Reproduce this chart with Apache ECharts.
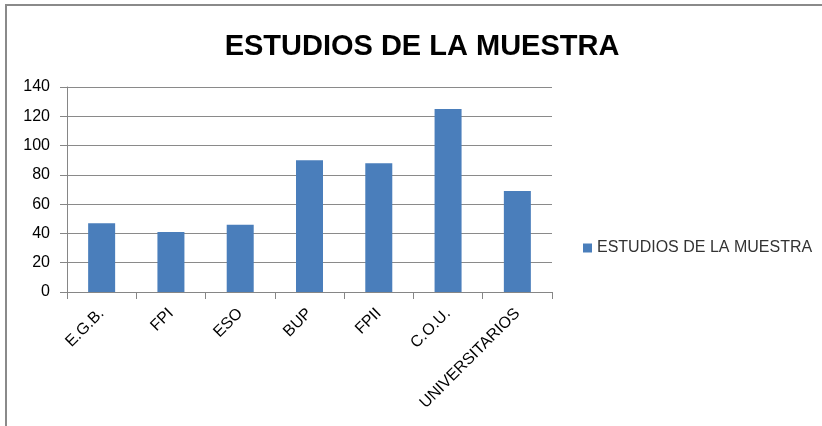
<!DOCTYPE html>
<html>
<head>
<meta charset="utf-8">
<script src="https://cdn.jsdelivr.net/npm/echarts@6/dist/echarts.min.js"></script>
<style>
html,body{margin:0;padding:0;background:#fff;}
#frame{position:absolute;left:5px;top:4px;width:817px;height:422px;border-left:2px solid #8a8a8a;border-top:2px solid #8a8a8a;box-sizing:border-box;}
#chart{position:absolute;left:0;top:0;width:822px;height:426px;}
</style>
</head>
<body>
<div id="frame"></div>
<div id="chart"></div>
<script>
const titleText = "ESTUDIOS DE LA MUESTRA";
const categories = ["E.G.B.", "FPI", "ESO", "BUP", "FPII", "C.O.U.", "UNIVERSITARIOS"];
const seriesName = "ESTUDIOS DE LA MUESTRA";
const values = [47, 41, 46, 90, 88, 125, 69];
const yTicks = [0, 20, 40, 60, 80, 100, 120, 140];

const chart = echarts.init(document.getElementById('chart'), null, {renderer: 'canvas'});
chart.setOption({
  backgroundColor: 'transparent',
  animation: false,
  title: {
    text: titleText,
    left: 417,
    textAlign: 'center',
    top: 27,
    textStyle: {fontFamily: 'Liberation Sans', fontWeight: 'bold', fontSize: 29, color: '#000'}
  },
  legend: {
    orient: 'vertical',
    left: 583,
    top: 240,
    padding: 0,
    itemWidth: 9,
    itemHeight: 9,
    itemGap: 6,
    icon: 'rect',
    textStyle: {fontFamily: 'Liberation Sans', fontSize: 16, color: '#333'},
    data: [seriesName]
  },
  grid: {left: 67, right: 270, top: 87, bottom: 134, containLabel: false},
  xAxis: {
    type: 'category',
    data: categories,
    boundaryGap: true,
    axisLine: {lineStyle: {color: '#868686', width: 1}},
    axisTick: {show: true, alignWithLabel: false, length: 7, lineStyle: {color: '#868686'}},
    axisLabel: {rotate: 45, interval: 0, margin: 19, fontFamily: 'Liberation Sans', fontSize: 16, color: '#000'}
  },
  yAxis: {
    type: 'value',
    min: 0,
    max: 140,
    interval: 20,
    axisLine: {show: true, lineStyle: {color: '#868686', width: 1}},
    axisTick: {show: true, length: 7, lineStyle: {color: '#868686'}},
    splitLine: {show: true, lineStyle: {color: '#8a8a8a', width: 1}},
    axisLabel: {margin: 17, fontFamily: 'Liberation Sans', fontSize: 16, color: '#000',
      formatter: function(v){ return yTicks.indexOf(v) >= 0 ? String(v) : ''; }}
  },
  series: [{
    name: seriesName,
    type: 'bar',
    data: values,
    barWidth: 27,
    itemStyle: {color: '#4a7ebb'}
  }]
});
</script>
</body>
</html>
